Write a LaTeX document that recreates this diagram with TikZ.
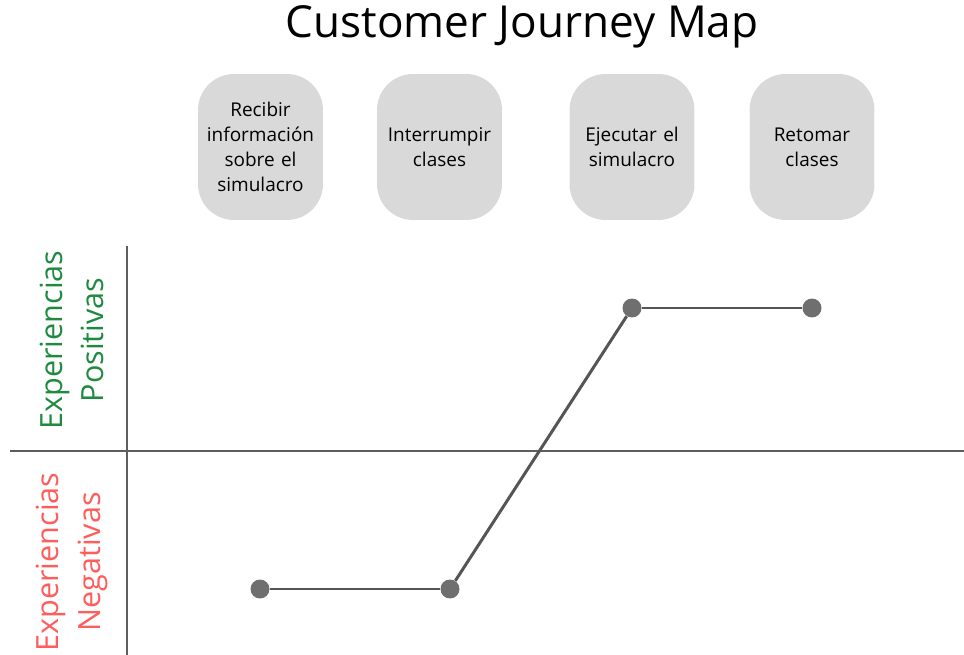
\documentclass[tikz,border=0pt]{standalone}
\usepackage{fontspec}
\setmainfont{Open Sans}
\usepackage{tikz}
\usetikzlibrary{positioning}
\definecolor{stepfill}{HTML}{D9D9D9}
\definecolor{axis}{HTML}{5E5E5E}
\definecolor{curve}{HTML}{555555}
\definecolor{dotgray}{HTML}{6F6F6F}
\definecolor{good}{HTML}{1E8A40}
\definecolor{bad}{HTML}{FF5C5C}

\begin{document}
\begin{tikzpicture}[
  x=0.02cm, y=-0.02cm,
  stage/.style={
    rectangle, fill=stepfill, rounded corners=0.72cm,
    minimum width=2.5cm, minimum height=2.92cm, font=\fontsize{10.8}{14.2}\selectfont,
    align=center, text width=2.2cm,
  },
  dot/.style={circle, fill=dotgray, inner sep=0pt, minimum size=0.38cm},
  side/.style={rotate=90, align=center, font=\fontsize{17.4}{23.5}\selectfont},
  journey/.style={draw=curve, line width=1.7pt},
]
  \useasboundingbox (0,0) rectangle (964,655);

  \node[font=\fontsize{25.1}{30}\selectfont] (title) at (522,27) {Customer Journey Map};

  % pasos del recorrido
  \node[stage] (recibir) at (260.5,147) {Recibir\\información\\sobre el\\simulacro};
  \node[stage] (interrumpir) at (439.5,147) {Interrumpir\\clases};
  \node[stage] (ejecutar) at (632,147) {Ejecutar el\\simulacro};
  \node[stage] (retomar) at (812,147) {Retomar\\clases};

  % ejes
  \coordinate (ytop) at (127,246);
  \coordinate (ybot) at (127,655);
  \coordinate (xleft) at (10,451);
  \coordinate (xright) at (964,451);
  \draw[axis, line width=1.1pt] (ytop) -- (ybot);
  \draw[axis, line width=1.1pt] (xleft) -- (xright);

  \node[side, text=good] (pos) at (72,340) {Experiencias\\Positivas};
  \node[side, text=bad] (neg) at (72,562) {Experiencias\\Negativas};

  % curva de experiencia
  \node[dot] (p1) at (260,589) {};
  \node[dot] (p2) at (450,589) {};
  \node[dot] (p3) at (632,308) {};
  \node[dot] (p4) at (812,308) {};
  \draw[journey] (p1) -- (p2);
  \draw[journey] (p2) -- (p3);
  \draw[journey] (p3) -- (p4);
\end{tikzpicture}
\end{document}
